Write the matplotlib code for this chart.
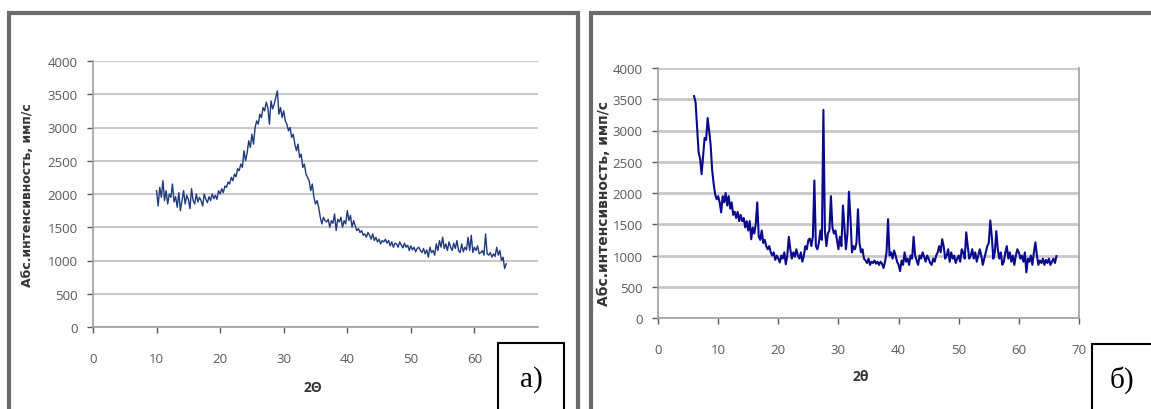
import numpy as np
import matplotlib.pyplot as plt
from matplotlib.patches import Rectangle


# Данные рентгенограмм (шаг 0.25 градуса)
x_a = np.arange(10, 65.01, 0.25)
I_a = [2050, 1820, 2100, 1950, 2200, 1900, 2050, 1850, 2000, 1950, 2150, 1880,
       1960, 1800, 2020, 1750, 1900, 2050, 1850, 1980, 1920, 1780, 2080, 1900,
       1850, 2000, 1880, 1950, 1900, 1820, 2000, 1920, 1870, 1960, 1900, 2000,
       1930, 1980, 1920, 2050, 2000, 2080, 2020, 2120, 2100, 2180, 2150, 2250,
       2200, 2300, 2260, 2380, 2350, 2450, 2400, 2650, 2500, 2620, 2800, 2700,
       2900, 2750, 3000, 3100, 3050, 3200, 3150, 3300, 3250, 3380, 3300, 3050,
       3400, 3280, 3350, 3450, 3550, 3200, 3300, 3150, 3250, 3100, 3050, 2950,
       3000, 2850, 2900, 2750, 2650, 2750, 2550, 2600, 2400, 2450, 2300, 2250,
       2200, 2050, 2150, 1950, 1850, 1900, 1800, 1650, 1550, 1650, 1600, 1580,
       1620, 1500, 1600, 1560, 1700, 1450, 1620, 1580, 1650, 1500, 1600, 1550,
       1750, 1600, 1680, 1500, 1600, 1520, 1450, 1480, 1420, 1450, 1380, 1400,
       1350, 1420, 1380, 1320, 1400, 1300, 1350, 1280, 1320, 1250, 1300, 1280,
       1320, 1260, 1300, 1220, 1280, 1200, 1260, 1250, 1200, 1280, 1230, 1190,
       1260, 1200, 1230, 1150, 1220, 1160, 1200, 1130, 1180, 1200, 1150, 1120,
       1180, 1100, 1160, 1050, 1200, 1120, 1150, 1080, 1250, 1150, 1300, 1200,
       1350, 1180, 1250, 1150, 1280, 1200, 1150, 1260, 1180, 1300, 1150, 1120,
       1250, 1130, 1200, 1160, 1350, 1150, 1380, 1120, 1200, 1150, 1220, 1100,
       1120, 1150, 1080, 1400, 1100, 1080, 1120, 1050, 1100, 1060, 1200, 1080,
       1150, 1000, 1050, 880, 950]

x_b = np.arange(6, 66.26, 0.25)
I_b = [3550, 3450, 3060, 2650, 2550, 2300, 2600, 2880, 2850, 3200, 3000, 2770,
       2370, 2150, 1980, 1900, 1950, 1850, 1690, 1950, 1850, 2000, 1800, 1950,
       1750, 1850, 1650, 1700, 1600, 1700, 1550, 1650, 1550, 1600, 1450, 1550,
       1400, 1550, 1260, 1450, 1350, 1500, 1850, 1300, 1250, 1400, 1200, 1250,
       1150, 1100, 1150, 1050, 1000, 1050, 930, 1000, 950, 890, 1000, 950,
       1050, 860, 1000, 1300, 1100, 950, 1050, 980, 1100, 1000, 950, 1050,
       900, 1000, 1150, 1100, 1250, 1270, 1150, 1300, 2200, 1150, 1100, 1200,
       1400, 1250, 3330, 1400, 1150, 1350, 1400, 1950, 1450, 1350, 1400, 1250,
       1100, 1300, 1150, 1800, 1450, 1100, 1350, 2020, 1600, 1050, 1150, 1100,
       1200, 1740, 1200, 1050, 1100, 950, 920, 880, 950, 850, 900, 880,
       920, 870, 900, 850, 900, 870, 800, 900, 1050, 1580, 1000, 1050,
       950, 1080, 1000, 900, 850, 750, 920, 850, 1050, 900, 950, 850,
       1000, 950, 1300, 1000, 920, 850, 1000, 950, 1050, 980, 900, 1000,
       950, 880, 850, 950, 900, 1000, 1050, 1150, 1050, 1260, 1150, 950,
       1000, 1100, 900, 1050, 950, 1000, 880, 950, 1000, 900, 1100, 1050,
       950, 1370, 1150, 950, 1000, 1100, 950, 1050, 900, 1000, 1100, 1000,
       850, 950, 1050, 1150, 1200, 1560, 1300, 950, 1050, 1390, 1100, 950,
       1050, 850, 900, 1050, 1150, 950, 1050, 900, 1000, 850, 1000, 1100,
       1050, 950, 1000, 900, 1050, 730, 950, 900, 1000, 850, 1050, 1210,
       1000, 850, 920, 880, 950, 850, 930, 880, 950, 850, 900, 950,
       880, 990]

y_ticks = [0, 500, 1000, 1500, 2000, 2500, 3000, 3500, 4000]
ylab = 'Абс.интенсивность, имп/с'
grid_col = '#c8c8c8'
tick_col = '#595959'

plt.rcParams['font.family'] = ['Open Sans', 'DejaVu Sans']

fig = plt.figure(figsize=(11.51, 4.10), dpi=100)

# рамки панелей
fig.patches.append(Rectangle((9/1151, -0.1), 569/1151, 1.1 - 14/410,
                             transform=fig.transFigure, fill=False,
                             edgecolor='#6b6b6b', lw=3))
fig.patches.append(Rectangle((591/1151, -0.1), 0.5, 1.1 - 14/410,
                             transform=fig.transFigure, fill=False,
                             edgecolor='#6b6b6b', lw=3))


def setup(ax, xmax, gw):
    ax.set_ylim(0, 4000)
    ax.set_xlim(0, xmax)
    ax.set_yticks(y_ticks)
    ax.set_xticks(np.arange(0, xmax + 1, 10))
    ax.grid(axis='y', color=grid_col, lw=gw)
    ax.set_axisbelow(True)
    ax.tick_params(colors=tick_col, labelsize=9.5, length=4, width=1)
    ax.tick_params(axis='x', pad=14)
    ax.tick_params(axis='y', pad=7)
    for s in ax.spines.values():
        s.set_color('#a0a0a0')
        s.set_linewidth(1.2)


# а) левый график
ax1 = fig.add_axes([93/1151, 1 - 328/410, 445/1151, 266/410])
ax1.plot(x_a, I_a, color='#1f3a7c', lw=1.0)
setup(ax1, 70, 1.5)
ax1.spines['top'].set_visible(False)
ax1.spines['right'].set_visible(False)
ax1.set_xticks(np.arange(0, 61, 10))
ax1.set_ylabel(ylab, fontsize=9, fontweight='bold', color='#333333',
               family='DejaVu Sans', va='center')
ax1.yaxis.set_label_coords(-0.148, 0.5)
ax1.set_xlabel('2Θ', fontsize=10, fontweight='bold', color='#333333', va='center')
ax1.xaxis.set_label_coords(0.494, -0.226)

# б) правый график
ax2 = fig.add_axes([658/1151, 1 - 319/410, 421/1151, 250/410])
ax2.plot(x_b, I_b, color='#0a0a8c', lw=1.5)
setup(ax2, 70, 2.0)
ax2.spines['top'].set_visible(False)
ax2.set_ylabel(ylab, fontsize=10, fontweight='bold', color='#333333',
               family='DejaVu Sans', va='center')
ax2.yaxis.set_label_coords(-0.128, 0.46)
ax2.set_xlabel('2θ', fontsize=10, fontweight='bold', color='#333333', va='center')
ax2.xaxis.set_label_coords(0.482, -0.232)

# подписи а) и б)
fig.patches.append(Rectangle((498/1151, -0.1), 66/1151, 0.1 + 1 - 344/410,
                             transform=fig.transFigure, facecolor='white',
                             edgecolor='black', lw=1.5))
fig.text(531/1151, 1 - 380/410, 'а)', fontsize=21, family='Liberation Serif',
         ha='center', va='center')
fig.patches.append(Rectangle((1092/1151, -0.1), 70/1151, 0.1 + 1 - 345/410,
                             transform=fig.transFigure, facecolor='white',
                             edgecolor='black', lw=1.5))
fig.text(1122/1151, 1 - 380/410, 'б)', fontsize=21, family='Liberation Serif',
         ha='center', va='center')

plt.savefig('out.png', dpi=100)
